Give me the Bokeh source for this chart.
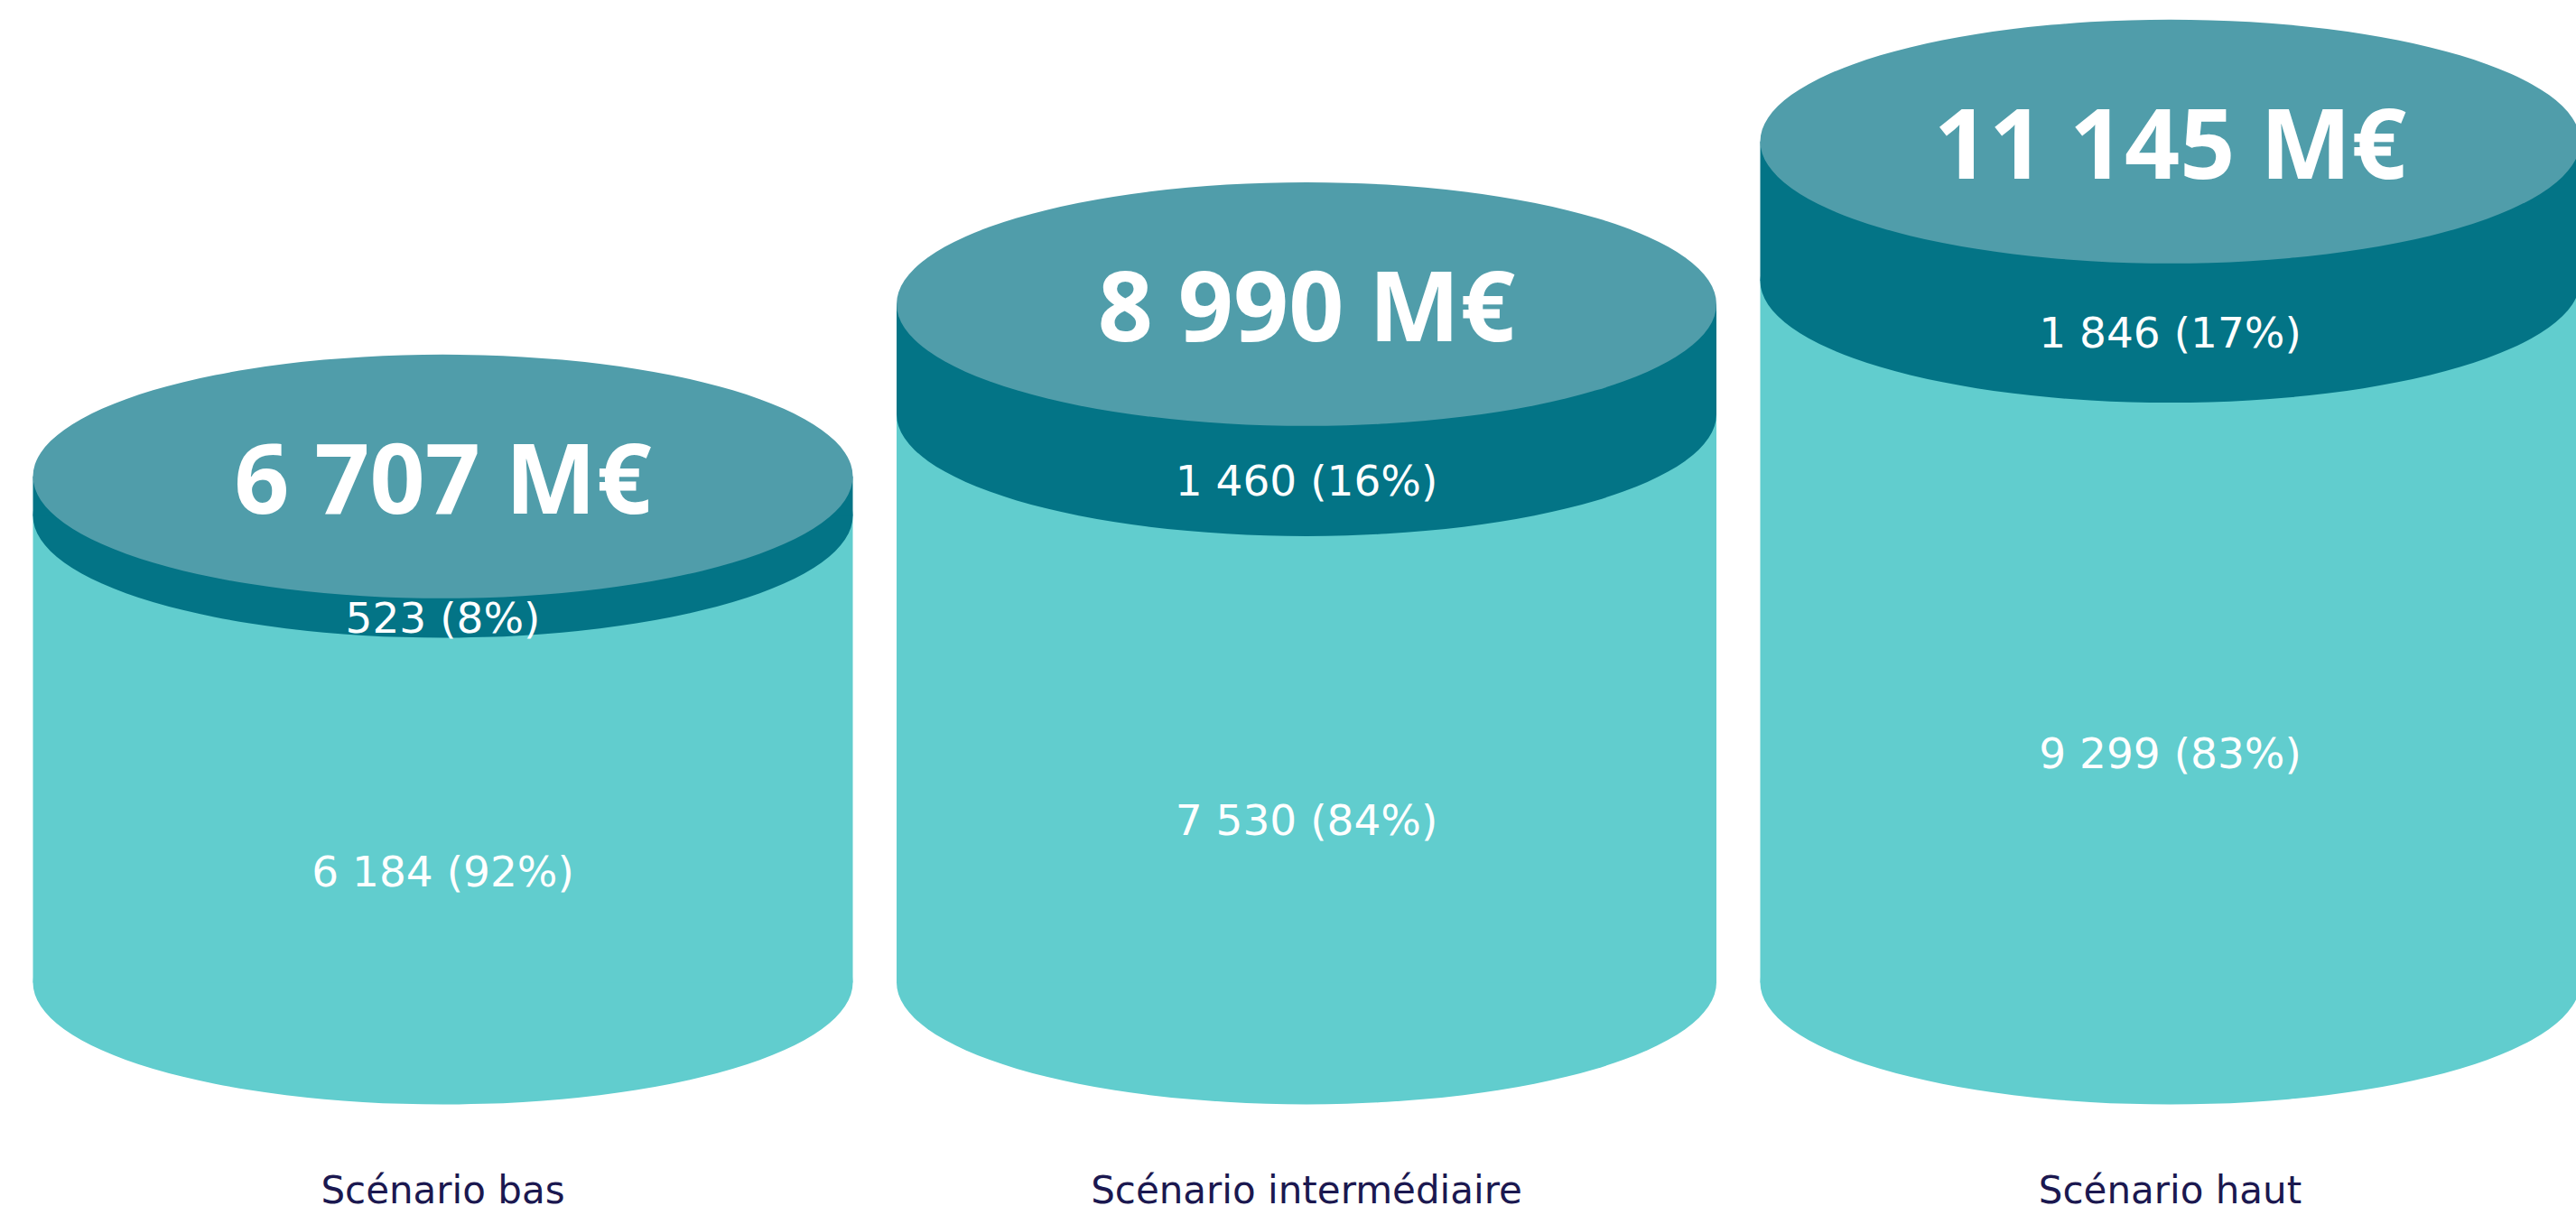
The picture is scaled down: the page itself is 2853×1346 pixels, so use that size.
from bokeh.plotting import figure
from bokeh.models import Range1d
from bokeh.core.properties import value
from bokeh.embed import file_html
from bokeh.resources import INLINE

# ---- data ----
categories = ["Scénario bas", "Scénario intermédiaire", "Scénario haut"]
base_values = [6184, 7530, 9299]
extra_values = [523, 1460, 1846]
total_values = [6707, 8990, 11145]
base_pct = [92, 84, 83]
extra_pct = [8, 16, 17]


def fr(v):
    return f"{v:,}".replace(",", " ")


# ---- layout constants ----
W, H = 2853, 1346
PX_X = 956.5          # pixels per category step
X0 = 490.0            # pixel position of first category centre
PX_Y = 0.0836         # pixels per M€
Y0 = 1088.0           # pixel position of value 0 (from top)
CYL_W = 908 / PX_X    # cylinder width in x units
ELL_H = 270 / PX_Y    # ellipse full height in data units
HALF = ELL_H / 2

LIGHT = "#61cdce"
DARK = "#037486"
TOP = "#509daa"
NAVY = "#1b1850"

xs = list(range(len(categories)))
tops_extra = [b + e for b, e in zip(base_values, extra_values)]

p = figure(width=W, height=H, output_backend="svg", toolbar_location=None,
           x_range=Range1d(-X0 / PX_X, (W - X0) / PX_X),
           y_range=Range1d(-(H - Y0) / PX_Y, Y0 / PX_Y),
           min_border=0, outline_line_color=None, background_fill_color="white",
           border_fill_color="white")
p.axis.visible = False
p.grid.visible = False

# light base segment
p.ellipse(x=xs, y=[0] * 3, width=CYL_W, height=ELL_H, fill_color=LIGHT, line_color=None)
p.vbar(x=xs, width=CYL_W, bottom=0, top=base_values, fill_color=LIGHT, line_color=None)
# dark extra segment
p.ellipse(x=xs, y=base_values, width=CYL_W, height=ELL_H, fill_color=DARK, line_color=None)
p.vbar(x=xs, width=CYL_W, bottom=base_values, top=tops_extra, fill_color=DARK, line_color=None)
# top cap
p.ellipse(x=xs, y=total_values, width=CYL_W, height=ELL_H, fill_color=TOP, line_color=None)

# labels
p.text(x=xs, y=total_values, text=[f"{fr(t)} M€" for t in total_values],
       text_font=value("Open Sans"), text_font_style="bold", text_font_size="107px",
       text_color="white", text_align="center", text_baseline="middle")

p.text(x=xs, y=[b + e / 2 - HALF for b, e in zip(base_values, extra_values)],
       text=[f"{fr(e)} ({q}%)" for e, q in zip(extra_values, extra_pct)],
       text_font=value("DejaVu Sans"), text_font_size="47px",
       text_color="white", text_align="center", text_baseline="middle")

p.text(x=xs, y=[b / 2 - HALF for b in base_values],
       text=[f"{fr(b)} ({q}%)" for b, q in zip(base_values, base_pct)],
       text_font=value("DejaVu Sans"), text_font_size="47px",
       text_color="white", text_align="center", text_baseline="middle")

p.text(x=xs, y=[(Y0 - 1318) / PX_Y] * 3, text=categories,
       text_font=value("DejaVu Sans"), text_font_size="42px",
       text_color=NAVY, text_align="center", text_baseline="middle")

open("out.html", "w").write(file_html(p, INLINE))
